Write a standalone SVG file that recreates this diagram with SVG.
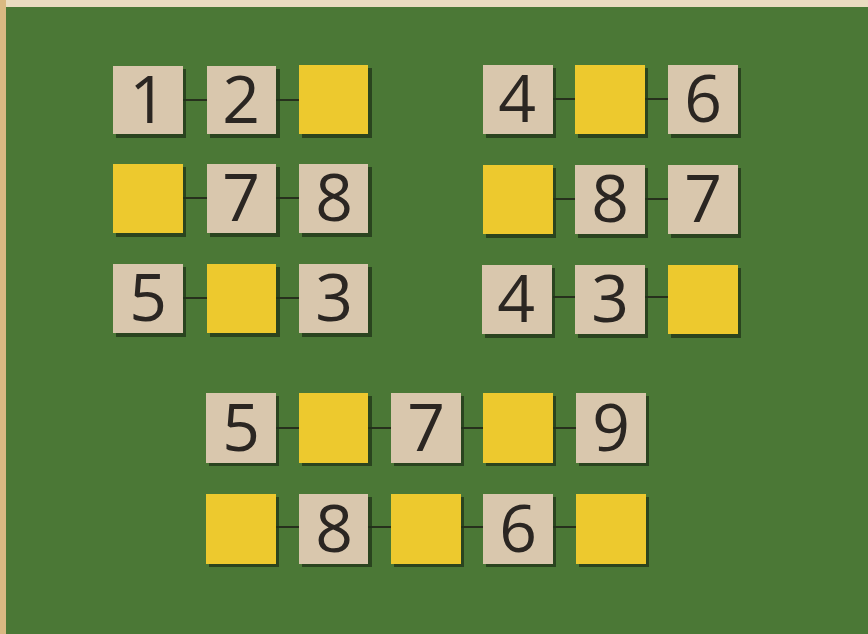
<svg xmlns="http://www.w3.org/2000/svg" width="868" height="634" viewBox="0 0 868 634">
<defs>
<style>
.bg{fill:#4b7836}
.sh{fill:#1f3318;opacity:0.75}
.num{fill:#d9c7ad}
.yel{fill:#edc92e}
.d{font-family:"Open Sans","Liberation Sans","DejaVu Sans",sans-serif;font-weight:400;font-size:66px;fill:#2b2622;text-anchor:middle}
.c{stroke:#26301c;stroke-width:2}
</style>
</defs>
<rect x="0" y="0" width="868" height="634" class="bg"/>
<rect x="0" y="0" width="868" height="7" fill="#eadcc0"/>
<rect x="0" y="0" width="6" height="634" fill="#d9b982"/>
<g id="connectors">
<line class="c" x1="183" y1="100" x2="207" y2="100"/>
<line class="c" x1="276" y1="100" x2="299" y2="100"/>
<line class="c" x1="183" y1="198" x2="207" y2="198"/>
<line class="c" x1="276" y1="198" x2="299" y2="198"/>
<line class="c" x1="183" y1="298" x2="207" y2="298"/>
<line class="c" x1="276" y1="298" x2="299" y2="298"/>
<line class="c" x1="553" y1="99" x2="575" y2="99"/>
<line class="c" x1="645" y1="99" x2="668" y2="99"/>
<line class="c" x1="553" y1="199" x2="575" y2="199"/>
<line class="c" x1="645" y1="199" x2="668" y2="199"/>
<line class="c" x1="553" y1="297" x2="575" y2="297"/>
<line class="c" x1="645" y1="297" x2="668" y2="297"/>
<line class="c" x1="276" y1="428" x2="299" y2="428"/>
<line class="c" x1="368" y1="428" x2="391" y2="428"/>
<line class="c" x1="461" y1="428" x2="483" y2="428"/>
<line class="c" x1="553" y1="428" x2="576" y2="428"/>
<line class="c" x1="276" y1="527" x2="299" y2="527"/>
<line class="c" x1="368" y1="527" x2="391" y2="527"/>
<line class="c" x1="461" y1="527" x2="483" y2="527"/>
<line class="c" x1="553" y1="527" x2="576" y2="527"/>
</g>
<g id="t1"><rect class="sh" x="116" y="69" width="70" height="69"/><rect class="num" x="113" y="66" width="70" height="68"/><text class="d" x="148" y="123">1</text></g>
<g id="t2"><rect class="sh" x="210" y="69" width="70" height="69"/><rect class="num" x="207" y="66" width="69" height="68"/><text class="d" x="241" y="123">2</text></g>
<g id="t3"><rect class="sh" x="302" y="68" width="70" height="70"/><rect class="yel" x="299" y="65" width="69" height="69"/></g>
<g id="t4"><rect class="sh" x="116" y="167" width="70" height="70"/><rect class="yel" x="113" y="164" width="70" height="69"/></g>
<g id="t5"><rect class="sh" x="210" y="167" width="70" height="70"/><rect class="num" x="207" y="164" width="69" height="69"/><text class="d" x="241" y="221">7</text></g>
<g id="t6"><rect class="sh" x="302" y="167" width="70" height="70"/><rect class="num" x="299" y="164" width="69" height="69"/><text class="d" x="334" y="221">8</text></g>
<g id="t7"><rect class="sh" x="116" y="267" width="70" height="70"/><rect class="num" x="113" y="264" width="70" height="69"/><text class="d" x="148" y="321">5</text></g>
<g id="t8"><rect class="sh" x="210" y="267" width="70" height="70"/><rect class="yel" x="207" y="264" width="69" height="69"/></g>
<g id="t9"><rect class="sh" x="302" y="267" width="70" height="70"/><rect class="num" x="299" y="264" width="69" height="69"/><text class="d" x="334" y="321">3</text></g>
<g id="t10"><rect class="sh" x="486" y="68" width="70" height="70"/><rect class="num" x="483" y="65" width="70" height="69"/><text class="d" x="517" y="122">4</text></g>
<g id="t11"><rect class="sh" x="578" y="68" width="70" height="70"/><rect class="yel" x="575" y="65" width="70" height="69"/></g>
<g id="t12"><rect class="sh" x="671" y="68" width="70" height="70"/><rect class="num" x="668" y="65" width="70" height="69"/><text class="d" x="703" y="122">6</text></g>
<g id="t13"><rect class="sh" x="486" y="168" width="70" height="70"/><rect class="yel" x="483" y="165" width="70" height="69"/></g>
<g id="t14"><rect class="sh" x="578" y="168" width="70" height="70"/><rect class="num" x="575" y="165" width="70" height="69"/><text class="d" x="610" y="222">8</text></g>
<g id="t15"><rect class="sh" x="671" y="168" width="70" height="70"/><rect class="num" x="668" y="165" width="70" height="69"/><text class="d" x="703" y="222">7</text></g>
<g id="t16"><rect class="sh" x="485" y="268" width="70" height="70"/><rect class="num" x="482" y="265" width="70" height="69"/><text class="d" x="516" y="322">4</text></g>
<g id="t17"><rect class="sh" x="578" y="268" width="70" height="70"/><rect class="num" x="575" y="265" width="70" height="69"/><text class="d" x="610" y="322">3</text></g>
<g id="t18"><rect class="sh" x="671" y="268" width="70" height="70"/><rect class="yel" x="668" y="265" width="70" height="69"/></g>
<g id="t19"><rect class="sh" x="209" y="396" width="70" height="70"/><rect class="num" x="206" y="393" width="70" height="70"/><text class="d" x="241" y="451">5</text></g>
<g id="t20"><rect class="sh" x="302" y="396" width="70" height="70"/><rect class="yel" x="299" y="393" width="69" height="70"/></g>
<g id="t21"><rect class="sh" x="394" y="396" width="70" height="70"/><rect class="num" x="391" y="393" width="70" height="70"/><text class="d" x="426" y="451">7</text></g>
<g id="t22"><rect class="sh" x="486" y="396" width="70" height="70"/><rect class="yel" x="483" y="393" width="70" height="70"/></g>
<g id="t23"><rect class="sh" x="579" y="396" width="70" height="70"/><rect class="num" x="576" y="393" width="70" height="70"/><text class="d" x="611" y="451">9</text></g>
<g id="t24"><rect class="sh" x="209" y="497" width="70" height="70"/><rect class="yel" x="206" y="494" width="70" height="70"/></g>
<g id="t25"><rect class="sh" x="302" y="497" width="70" height="70"/><rect class="num" x="299" y="494" width="69" height="70"/><text class="d" x="334" y="552">8</text></g>
<g id="t26"><rect class="sh" x="394" y="497" width="70" height="70"/><rect class="yel" x="391" y="494" width="70" height="70"/></g>
<g id="t27"><rect class="sh" x="486" y="497" width="70" height="70"/><rect class="num" x="483" y="494" width="70" height="70"/><text class="d" x="518" y="552">6</text></g>
<g id="t28"><rect class="sh" x="579" y="497" width="70" height="70"/><rect class="yel" x="576" y="494" width="70" height="70"/></g>
</svg>
